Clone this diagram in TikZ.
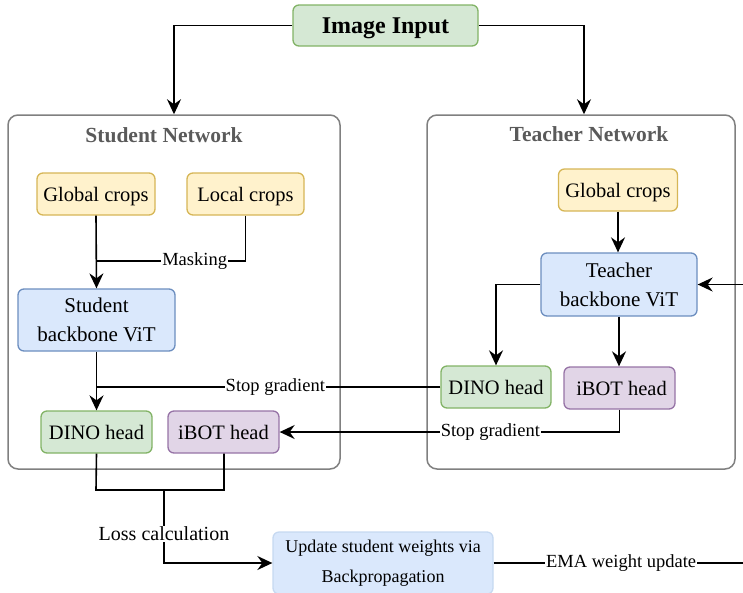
\documentclass[tikz,border=0pt]{standalone}
\usepackage{fontspec}
\setmainfont{Liberation Serif}
\usetikzlibrary{arrows.meta,calc}
\definecolor{ygfill}{HTML}{FFF2CC}\definecolor{ygdraw}{HTML}{D6B656}
\definecolor{blfill}{HTML}{DAE8FC}\definecolor{bldraw}{HTML}{6C8EBF}
\definecolor{grfill}{HTML}{D5E8D4}\definecolor{grdraw}{HTML}{82B366}
\definecolor{pufill}{HTML}{E1D5E7}\definecolor{pudraw}{HTML}{9673A6}
\definecolor{netdraw}{HTML}{808080}\definecolor{nettext}{HTML}{5A5A5A}
\definecolor{upddraw}{HTML}{C6D9F1}
\begin{document}
\begin{tikzpicture}[x=1pt,y=-1pt,
  box/.style={draw, rounded corners=6pt, line width=1.3pt, inner sep=0pt, align=center,
    font=\fontsize{20.5}{24}\selectfont},
  one/.style={box, text depth=0pt},
  yel/.style={one, fill=ygfill, draw=ygdraw, minimum width=118pt, minimum height=42pt},
  blu/.style={box, fill=blfill, draw=bldraw, font=\fontsize{21}{29}\selectfont},
  grn/.style={one, fill=grfill, draw=grdraw, minimum width=111pt, minimum height=42pt},
  pur/.style={one, fill=pufill, draw=pudraw, minimum width=111pt, minimum height=42pt},
  netbox/.style={draw=netdraw, rounded corners=10pt, line width=1.5pt, inner sep=0pt},
  nettitle/.style={text=nettext, font=\bfseries\fontsize{21.5}{24}\selectfont, inner sep=0pt},
  wire/.style={line width=1.6pt, draw=black},
  arr/.style={wire, -{Stealth[length=15pt,width=14pt,inset=5pt]}},
  lab/.style={fill=white, inner sep=1pt, font=\fontsize{18.5}{20}\selectfont}
]
\useasboundingbox (0,0) rectangle (743,592);
\clip (0,0) rectangle (743,592);
% network containers
\node[netbox, minimum width=332pt, minimum height=354pt] (snet) at (174,292) {};
\node[netbox, minimum width=308pt, minimum height=354pt] (tnet) at (581,292) {};
\node[nettitle] (stitle) at (164,135) {Student Network};
\node[nettitle] (ttitle) at (589,134) {Teacher Network};
% top
\node[one, fill=grfill, draw=grdraw, minimum width=185pt, minimum height=41pt,
  font=\bfseries\fontsize{24}{28}\selectfont] (img) at (385.5,25.5) {Image Input};
% student
\node[yel] (sgc) at (96,194) {Global crops};
\node[yel, minimum width=117pt] (slc) at (245.5,194) {Local crops};
\node[blu, minimum width=157pt, minimum height=62pt] (sbb) at (96.5,320) {Student\\backbone ViT};
\node[grn] (sdino) at (96.5,432) {DINO head};
\node[pur] (sibot) at (223.5,432) {iBOT head};
% teacher
\node[yel, minimum width=119pt] (tgc) at (618,190) {Global crops};
\node[blu, minimum width=156pt, minimum height=63pt] (tbb) at (619,284.5) {Teacher\\backbone ViT};
\node[grn, minimum width=110pt] (tdino) at (496,387) {DINO head};
\node[pur] (tibot) at (619.5,388) {\hspace{4pt}iBOT head};
% update
\node[box, fill=blfill, draw=upddraw, minimum width=220pt, minimum height=62pt,
  font=\fontsize{18}{30}\selectfont] (upd) at (383,563) {Update student weights via\\Backpropagation};
% coordinates
\coordinate (mk) at (96,261);
\coordinate (lossL) at (96,490);
\coordinate (lossR) at (224,490);
\coordinate (lossM) at (164,490);
\coordinate (ema) at ($(upd.east)+(255,0)$);
% connectors
\draw[arr] (img.west) -| (snet.north);
\draw[arr] (img.east) -| ([xshift=3pt]tnet.north);
\draw[arr] (sgc.south) -- (sbb.north);
\draw[wire] (slc.south) |- node[lab, pos=0.67] {Masking} (mk);
\draw[arr] (sbb.south) -- (sdino.north);
\draw[wire] (tdino.west) -- node[lab, pos=0.48] {Stop gradient} (tdino.west -| sdino.north);
\draw[arr] (tgc.south) -- (tgc.south |- tbb.north);
\draw[arr] (tbb.west) -| (tdino.north);
\draw[arr] (tbb.south) -- (tibot.north -| tbb.south);
\draw[arr] (tibot.south) |- node[lab, pos=0.69] {Stop gradient} (sibot.east);
\draw[wire] (sdino.south) -- (lossL) -- (lossR) -- (sibot.south -| lossR);
\draw[arr] (lossM) |- node[lab, pos=0.3, font=\fontsize{20}{22}\selectfont] {Loss calculation} (upd.west);
\draw[arr] (upd.east) -- node[lab] {EMA weight update} (ema) |- (tbb.east);
\end{tikzpicture}
\end{document}
